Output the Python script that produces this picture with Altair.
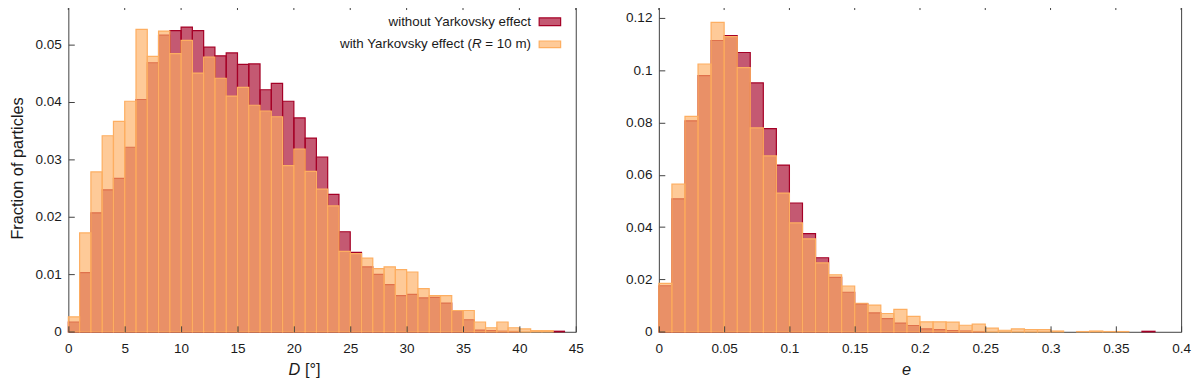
import altair as alt
import pandas as pd

# ---------------- data ----------------
D_BIN = 1.0
D_WITHOUT = [0.0017, 0.0103, 0.0207, 0.0247, 0.0267, 0.0321, 0.0404, 0.0468, 0.0516, 0.0524,
             0.0530, 0.0524, 0.0495, 0.0480, 0.0485, 0.0465, 0.0466, 0.0421, 0.0432, 0.0401,
             0.0372, 0.0337, 0.0304, 0.0239, 0.0174, 0.0138, 0.0113, 0.0100, 0.0082, 0.0063,
             0.0065, 0.0059, 0.0060, 0.0050, 0.0037, 0.0021, 0.0003, 0.0002, 0.0001, 0.00006,
             0, 0, 0, 0.0001, 0]
D_WITH = [0.0026, 0.0172, 0.0278, 0.0341, 0.0366, 0.0401, 0.0526, 0.0479, 0.0523, 0.0484,
          0.0507, 0.0450, 0.0478, 0.0441, 0.0410, 0.0425, 0.0394, 0.0384, 0.0374, 0.0289,
          0.0318, 0.0279, 0.0248, 0.0219, 0.0140, 0.0136, 0.0128, 0.0110, 0.0113, 0.0108,
          0.0104, 0.0075, 0.0063, 0.0063, 0.0037, 0.0037, 0.0017, 0.0007, 0.0017, 0.0007,
          0.0005, 0.0002, 0.0002, 0, 0]

E_BIN = 0.01
E_WITHOUT = [0.0176, 0.0508, 0.0806, 0.0979, 0.1113, 0.1132, 0.1067, 0.0951, 0.0776, 0.0637,
             0.0492, 0.0375, 0.0283, 0.0208, 0.0151, 0.0107, 0.0072, 0.0050, 0.0033, 0.0024,
             0.0011, 0.0008, 0.0005, 0.0003, 0.0001, 0, 0, 0, 0, 0,
             0, 0, 0, 0, 0, 0, 0, 0.0002, 0, 0]
E_WITH = [0.0185, 0.0564, 0.0823, 0.1023, 0.1182, 0.1128, 0.1009, 0.0779, 0.0672, 0.0530,
          0.0416, 0.0355, 0.0263, 0.0218, 0.0175, 0.0109, 0.0102, 0.0070, 0.0086, 0.0059,
          0.0038, 0.0038, 0.0037, 0.0025, 0.0029, 0.0014, 0.0006, 0.0011, 0.0008, 0.0008,
          0.0003, 0, 0.0001, 0.0003, 0.0001, 0.0001, 0, 0, 0, 0]

D_XTICKS = [0, 5, 10, 15, 20, 25, 30, 35, 40, 45]
E_XTICKS = [0, 0.05, 0.1, 0.15, 0.2, 0.25, 0.3, 0.35, 0.4]
D_YTICKS = [0, 0.01, 0.02, 0.03, 0.04, 0.05]
E_YTICKS = [0, 0.02, 0.04, 0.06, 0.08, 0.1, 0.12]

LEGEND_WITHOUT = "without Yarkovsky effect"
LEGEND_WITH_A = "with Yarkovsky effect ("
LEGEND_WITH_R = "R"
LEGEND_WITH_C = "= 10 m)"
Y_TITLE = "Fraction of particles"

# ---------------- style ----------------
RED = "#A50026"
ORANGE = "#FDAE61"
ALPHA = 0.65
FONT = "Liberation Sans"
TXT = "#1a1a1a"
AX = "#404040"


def bins(vals, w):
    rows = []
    for i, v in enumerate(vals):
        if v > 0:
            rows.append({"lo": round(i * w, 6), "hi": round((i + 1) * w, 6), "v": v})
    return pd.DataFrame(rows)


one = pd.DataFrame({"a": [0]})


def panel(without, with_, binw, xdom, xticks, ydom, yticks, w, h, ytitle, xtitle_parts, legend):
    xs = alt.Scale(domain=xdom, nice=False, zero=False)
    ys = alt.Scale(domain=ydom, nice=False)
    x_bottom = alt.Axis(values=xticks, format="~g", tickSize=6, offset=-6, domain=False,
                        labelPadding=10, grid=False, zindex=1, labelFlush=False)
    yargs = dict(values=yticks, format="~g", tickSize=6, offset=-6, domain=False,
                 labelPadding=7, grid=False, zindex=1, labelFlush=False)
    if ytitle:
        yargs.update(titlePadding=10, titleFontSize=16.5, titleFont=FONT,
                     titleFontWeight="normal", titleColor=TXT)
    yaxis = alt.Axis(**yargs)

    red = alt.Chart(bins(without, binw)).mark_rect(
        fill=RED, fillOpacity=ALPHA, stroke=RED, strokeWidth=1.2
    ).encode(
        x=alt.X("lo:Q", scale=xs, axis=x_bottom, title=None),
        x2="hi:Q",
        y=alt.Y("v:Q", scale=ys, axis=yaxis, title=ytitle if ytitle else None),
        y2=alt.datum(0),
    )
    orange = alt.Chart(bins(with_, binw)).mark_rect(
        fill=ORANGE, fillOpacity=ALPHA, stroke=ORANGE, strokeWidth=1.2
    ).encode(
        x=alt.X("lo:Q", scale=xs, axis=x_bottom, title=None),
        x2="hi:Q",
        y=alt.Y("v:Q", scale=ys, axis=yaxis, title=ytitle if ytitle else None),
        y2=alt.datum(0),
    )
    # mirrored (inward) ticks on the top border
    top_ticks = alt.Chart(pd.DataFrame({"t": xticks})).mark_rule(
        color=AX, strokeWidth=1
    ).encode(
        x=alt.X("t:Q", scale=xs, axis=x_bottom, title=None),
        y=alt.value(0), y2=alt.value(6),
    )
    layers = [red, orange, top_ticks]

    # x-axis title (italic symbol + plain unit)
    for txt, xpos, style in xtitle_parts:
        layers.append(alt.Chart(one).mark_text(
            text=txt, align="left", baseline="alphabetic", font=FONT, fontSize=16.5,
            fontStyle=style, color=TXT
        ).encode(x=alt.value(xpos), y=alt.value(375)))

    if legend:
        tx = 467.7
        layers.append(alt.Chart(one).mark_text(
            text=LEGEND_WITHOUT, align="right", baseline="middle", font=FONT, fontSize=13.5, color=TXT
        ).encode(x=alt.value(tx), y=alt.value(18.5)))
        # second row assembled from pieces (italic R)
        layers.append(alt.Chart(one).mark_text(
            text=LEGEND_WITH_C, align="right", baseline="middle", font=FONT, fontSize=13.5, color=TXT
        ).encode(x=alt.value(tx), y=alt.value(40.5)))
        layers.append(alt.Chart(one).mark_text(
            text=LEGEND_WITH_R, align="right", baseline="middle", font=FONT, fontSize=13.5,
            fontStyle="italic", color=TXT
        ).encode(x=alt.value(tx - 46.1 - 3.75), y=alt.value(40.5)))
        layers.append(alt.Chart(one).mark_text(
            text=LEGEND_WITH_A, align="right", baseline="middle", font=FONT, fontSize=13.5, color=TXT
        ).encode(x=alt.value(tx - 46.1 - 3.75 - 9.75), y=alt.value(40.5)))
        layers.append(alt.Chart(one).mark_rect(
            fill=RED, fillOpacity=ALPHA, stroke=RED, strokeWidth=1.2
        ).encode(x=alt.value(476), x2=alt.value(497.7), y=alt.value(14), y2=alt.value(21.7)))
        layers.append(alt.Chart(one).mark_rect(
            fill=ORANGE, fillOpacity=ALPHA, stroke=ORANGE, strokeWidth=1.2
        ).encode(x=alt.value(476), x2=alt.value(497.7), y=alt.value(37.3), y2=alt.value(44)))

    return alt.layer(*layers).properties(width=w, height=h)


left = panel(D_WITHOUT, D_WITH, D_BIN, [0, 45], D_XTICKS, [0, 0.057], D_YTICKS, 513, 331.3,
             Y_TITLE, [("D", 222.7, "italic"), ("[°]", 239.2, "normal")], True)
right = panel(E_WITHOUT, E_WITH, E_BIN, [0, 0.4], E_XTICKS, [0, 0.1252], E_YTICKS, 528, 331.3,
              None, [("e", 245.7, "italic")], False)

chart = alt.hconcat(left, right, spacing=40).properties(
    padding={"left": 0, "top": -7, "right": 0, "bottom": 0}
).configure_view(
    stroke=AX, strokeWidth=1
).configure_axis(
    labelFont=FONT, labelFontSize=13.7, labelColor=TXT, tickColor=AX, tickWidth=1
)

chart.save("out.html", embed_options={"renderer": "svg", "actions": False})
